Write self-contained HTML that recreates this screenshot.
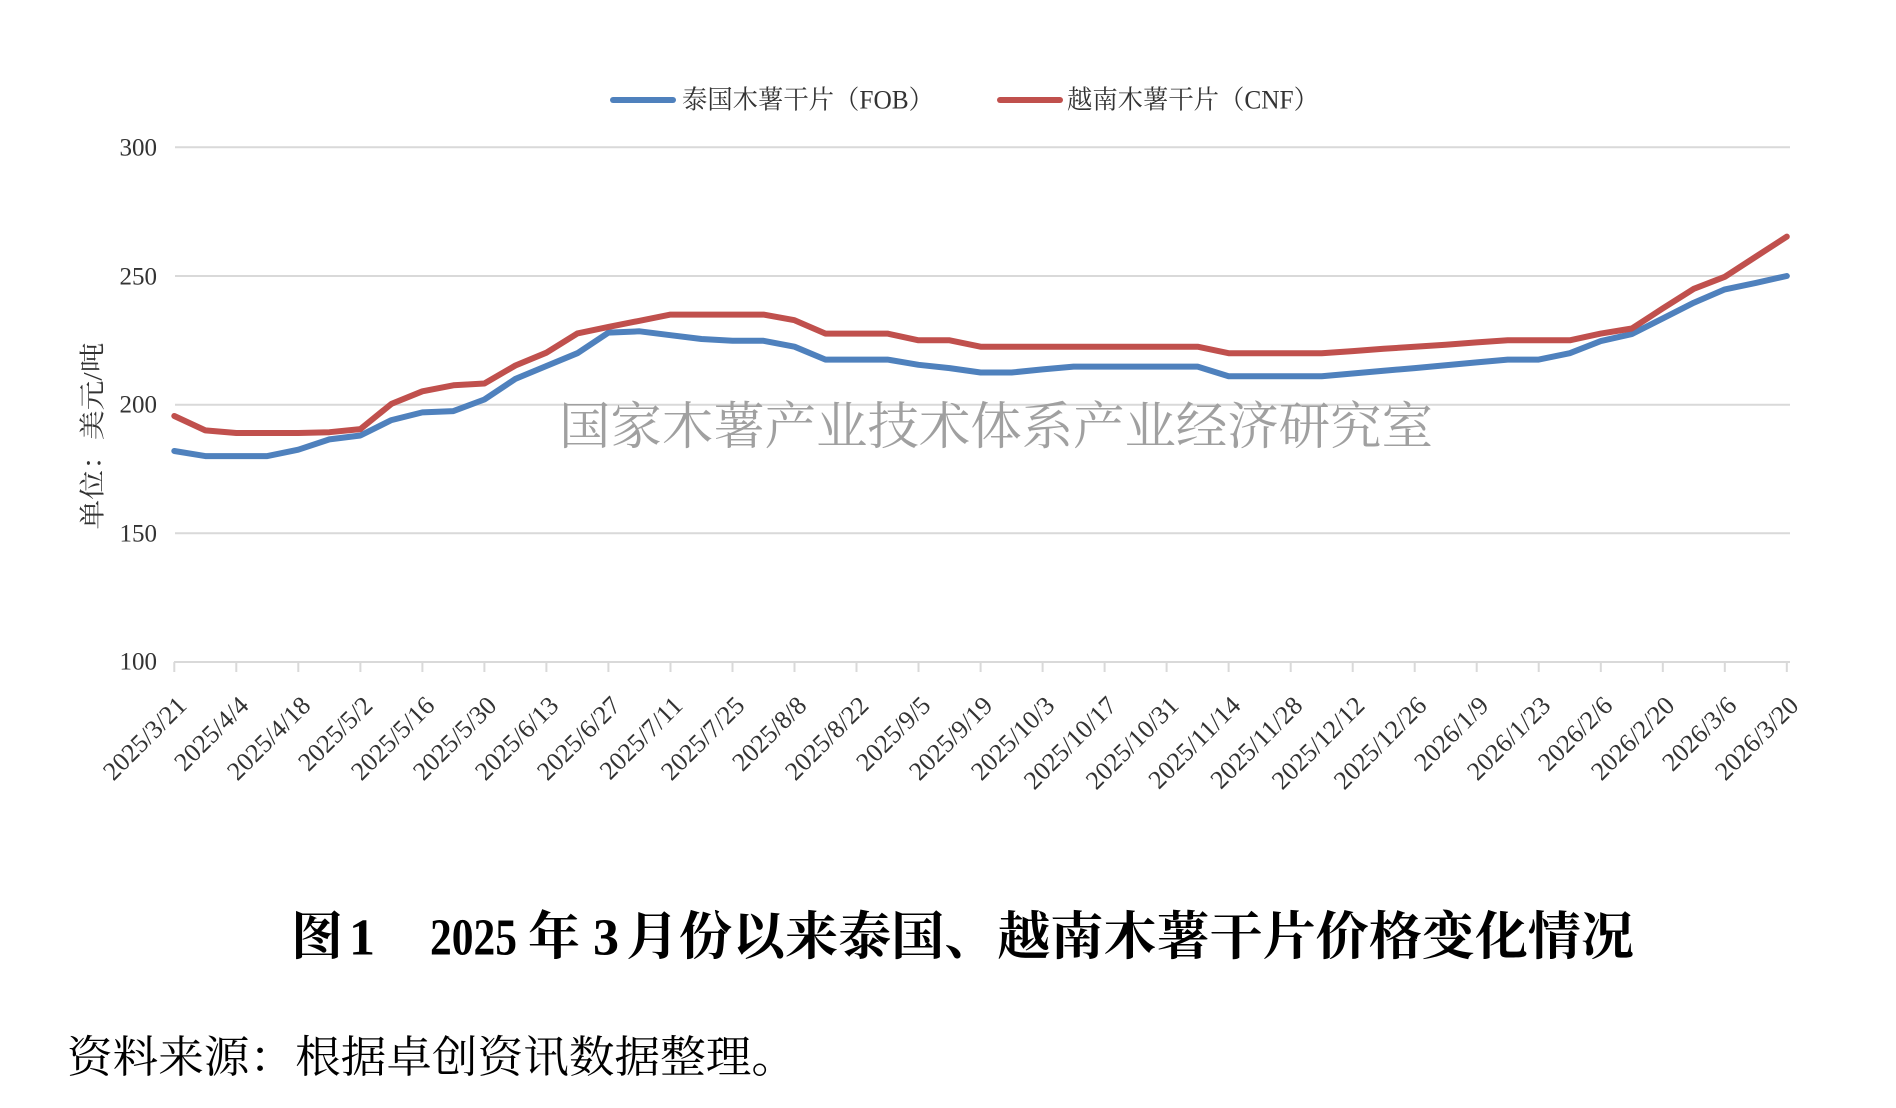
<!DOCTYPE html>
<html><head><meta charset="utf-8"><style>
html,body{margin:0;padding:0;background:#fff;}
svg{display:block;}
</style></head><body>
<svg width="1896" height="1108" viewBox="0 0 1896 1108" xmlns="http://www.w3.org/2000/svg">
<rect width="1896" height="1108" fill="#fff"/>
<!-- legend -->
<line x1="613" y1="100" x2="673" y2="100" stroke="#4f81bd" stroke-width="6" stroke-linecap="round"/>
<text x="682" y="100" dominant-baseline="central" font-family="Liberation Serif, Noto Serif CJK SC, serif" font-size="26" fill="#333" textLength="252" lengthAdjust="spacingAndGlyphs">泰国木薯干片（FOB）</text>
<line x1="1000" y1="100" x2="1060" y2="100" stroke="#c0504d" stroke-width="6" stroke-linecap="round"/>
<text x="1067" y="100" dominant-baseline="central" font-family="Liberation Serif, Noto Serif CJK SC, serif" font-size="26" fill="#333" textLength="252" lengthAdjust="spacingAndGlyphs">越南木薯干片（CNF）</text>
<!-- gridlines -->
<g stroke="#d9d9d9" stroke-width="2">
<line x1="175" y1="147.3" x2="1790" y2="147.3"/>
<line x1="175" y1="276" x2="1790" y2="276"/>
<line x1="175" y1="404.7" x2="1790" y2="404.7"/>
<line x1="175" y1="533.3" x2="1790" y2="533.3"/>
<line x1="174" y1="662" x2="1790" y2="662"/>
</g>
<!-- ticks -->
<g stroke="#d9d9d9" stroke-width="2">
<line x1="174.3" y1="662" x2="174.3" y2="672"/>
<line x1="236.3" y1="662" x2="236.3" y2="672"/>
<line x1="298.3" y1="662" x2="298.3" y2="672"/>
<line x1="360.4" y1="662" x2="360.4" y2="672"/>
<line x1="422.4" y1="662" x2="422.4" y2="672"/>
<line x1="484.4" y1="662" x2="484.4" y2="672"/>
<line x1="546.4" y1="662" x2="546.4" y2="672"/>
<line x1="608.4" y1="662" x2="608.4" y2="672"/>
<line x1="670.5" y1="662" x2="670.5" y2="672"/>
<line x1="732.5" y1="662" x2="732.5" y2="672"/>
<line x1="794.5" y1="662" x2="794.5" y2="672"/>
<line x1="856.5" y1="662" x2="856.5" y2="672"/>
<line x1="918.5" y1="662" x2="918.5" y2="672"/>
<line x1="980.6" y1="662" x2="980.6" y2="672"/>
<line x1="1042.6" y1="662" x2="1042.6" y2="672"/>
<line x1="1104.6" y1="662" x2="1104.6" y2="672"/>
<line x1="1166.6" y1="662" x2="1166.6" y2="672"/>
<line x1="1228.6" y1="662" x2="1228.6" y2="672"/>
<line x1="1290.7" y1="662" x2="1290.7" y2="672"/>
<line x1="1352.7" y1="662" x2="1352.7" y2="672"/>
<line x1="1414.7" y1="662" x2="1414.7" y2="672"/>
<line x1="1476.7" y1="662" x2="1476.7" y2="672"/>
<line x1="1538.7" y1="662" x2="1538.7" y2="672"/>
<line x1="1600.8" y1="662" x2="1600.8" y2="672"/>
<line x1="1662.8" y1="662" x2="1662.8" y2="672"/>
<line x1="1724.8" y1="662" x2="1724.8" y2="672"/>
<line x1="1786.8" y1="662" x2="1786.8" y2="672"/>
</g>
<!-- y labels -->
<g font-family="Liberation Serif, serif" font-size="25" fill="#333" text-anchor="end" dominant-baseline="central">
<text x="157" y="148">300</text>
<text x="157" y="277">250</text>
<text x="157" y="405">200</text>
<text x="157" y="534">150</text>
<text x="157" y="662">100</text>
</g>
<!-- y title -->
<text transform="translate(93,436) rotate(-90)" text-anchor="middle" dominant-baseline="central" font-family="Liberation Serif, Noto Serif CJK SC, serif" font-size="26" fill="#333" textLength="187" lengthAdjust="spacingAndGlyphs">单位：美元/吨</text>
<!-- watermark -->
<text x="559" y="422" dominant-baseline="central" font-family="Noto Serif CJK SC, serif" font-weight="400" font-size="51" fill="#a0a0a0" textLength="874" lengthAdjust="spacingAndGlyphs">国家木薯产业技术体系产业经济研究室</text>
<!-- x labels -->
<g font-family="Liberation Serif, serif" font-size="26" fill="#333" text-anchor="end" dominant-baseline="central">
<text transform="translate(182,701) rotate(-45)">2025/3/21</text>
<text transform="translate(244,701) rotate(-45)">2025/4/4</text>
<text transform="translate(306,701) rotate(-45)">2025/4/18</text>
<text transform="translate(368,701) rotate(-45)">2025/5/2</text>
<text transform="translate(430,701) rotate(-45)">2025/5/16</text>
<text transform="translate(492,701) rotate(-45)">2025/5/30</text>
<text transform="translate(554,701) rotate(-45)">2025/6/13</text>
<text transform="translate(616,701) rotate(-45)">2025/6/27</text>
<text transform="translate(678,701) rotate(-45)">2025/7/11</text>
<text transform="translate(740,701) rotate(-45)">2025/7/25</text>
<text transform="translate(802,701) rotate(-45)">2025/8/8</text>
<text transform="translate(864,701) rotate(-45)">2025/8/22</text>
<text transform="translate(926,701) rotate(-45)">2025/9/5</text>
<text transform="translate(988,701) rotate(-45)">2025/9/19</text>
<text transform="translate(1050,701) rotate(-45)">2025/10/3</text>
<text transform="translate(1112,701) rotate(-45)">2025/10/17</text>
<text transform="translate(1174,701) rotate(-45)">2025/10/31</text>
<text transform="translate(1236,701) rotate(-45)">2025/11/14</text>
<text transform="translate(1298,701) rotate(-45)">2025/11/28</text>
<text transform="translate(1360,701) rotate(-45)">2025/12/12</text>
<text transform="translate(1422,701) rotate(-45)">2025/12/26</text>
<text transform="translate(1484,701) rotate(-45)">2026/1/9</text>
<text transform="translate(1546,701) rotate(-45)">2026/1/23</text>
<text transform="translate(1608,701) rotate(-45)">2026/2/6</text>
<text transform="translate(1670,701) rotate(-45)">2026/2/20</text>
<text transform="translate(1732,701) rotate(-45)">2026/3/6</text>
<text transform="translate(1794,701) rotate(-45)">2026/3/20</text>
</g>
<!-- series -->
<polyline fill="none" stroke="#4f81bd" stroke-width="6" stroke-linejoin="round" stroke-linecap="round" points="174.3,451.0 205.3,456.1 236.3,456.1 267.3,456.1 298.3,449.7 329.4,439.4 360.4,435.5 391.4,420.1 422.4,412.4 453.4,411.1 484.4,399.5 515.4,378.9 546.4,366.0 577.4,353.2 608.4,332.6 639.5,331.3 670.5,335.2 701.5,339.0 732.5,340.8 763.5,340.8 794.5,346.7 825.5,359.6 856.5,359.6 887.5,359.6 918.5,364.8 949.6,368.1 980.6,372.5 1011.6,372.5 1042.6,369.4 1073.6,366.6 1104.6,366.6 1135.6,366.6 1166.6,366.6 1197.6,366.6 1228.6,376.3 1259.7,376.3 1290.7,376.3 1321.7,376.3 1352.7,373.5 1383.7,370.7 1414.7,368.1 1445.7,365.3 1476.7,362.4 1507.7,359.6 1538.7,359.6 1569.8,353.2 1600.8,341.1 1631.8,334.1 1662.8,318.4 1693.8,302.7 1724.8,289.4 1755.8,282.9 1786.8,276.0"/>
<polyline fill="none" stroke="#c0504d" stroke-width="6" stroke-linejoin="round" stroke-linecap="round" points="174.3,416.0 205.3,430.4 236.3,433.0 267.3,433.0 298.3,433.0 329.4,432.2 360.4,429.1 391.4,403.9 422.4,391.3 453.4,385.3 484.4,383.5 515.4,365.5 546.4,352.7 577.4,333.4 608.4,326.9 639.5,320.8 670.5,314.6 701.5,314.6 732.5,314.6 763.5,314.6 794.5,320.2 825.5,333.6 856.5,333.6 887.5,333.6 918.5,340.3 949.6,340.3 980.6,346.7 1011.6,346.7 1042.6,346.7 1073.6,346.7 1104.6,346.7 1135.6,346.7 1166.6,346.7 1197.6,346.7 1228.6,353.2 1259.7,353.2 1290.7,353.2 1321.7,353.2 1352.7,351.1 1383.7,348.8 1414.7,346.7 1445.7,344.7 1476.7,342.4 1507.7,340.3 1538.7,340.3 1569.8,340.3 1600.8,333.6 1631.8,328.5 1662.8,308.4 1693.8,288.8 1724.8,276.8 1755.8,256.7 1786.8,236.6"/>
<!-- title -->
<g font-family="Liberation Serif, Noto Serif CJK SC, serif" font-weight="bold" font-size="52" fill="#000" dominant-baseline="central">
<text x="291" y="938">图</text>
<text x="349" y="938">1</text>
<text x="430" y="938" textLength="87" lengthAdjust="spacingAndGlyphs">2025</text>
<text x="528" y="938">年</text>
<text x="593" y="938">3</text>
<text x="626" y="938" textLength="1008" lengthAdjust="spacingAndGlyphs">月份以来泰国、越南木薯干片价格变化情况</text>
</g>
<!-- source -->
<text x="67" y="1053" dominant-baseline="central" font-family="Noto Serif CJK SC, serif" font-size="44" fill="#000" textLength="730" lengthAdjust="spacingAndGlyphs">资料来源：根据卓创资讯数据整理。</text>
</svg>
</body></html>
